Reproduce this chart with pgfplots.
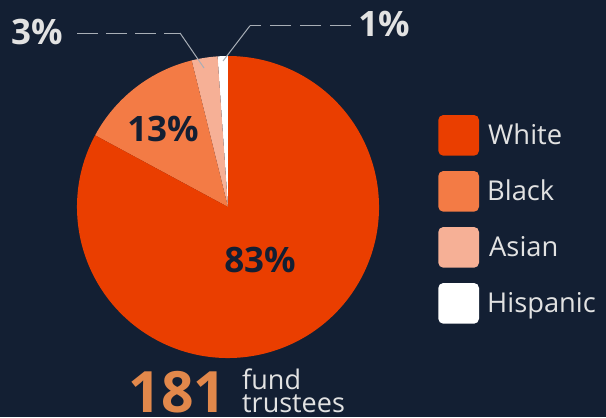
\documentclass[border=0pt]{standalone}
\usepackage{pgfplots}
\pgfplotsset{compat=1.18}
\usepackage{pgfplotstable}
\usepackage{fontspec}
\setmainfont{Open Sans}
\definecolor{bg}{HTML}{131F33}
\definecolor{cWhite}{HTML}{EA3E00}
\definecolor{cBlack}{HTML}{F37B45}
\definecolor{cAsian}{HTML}{F6B096}
\definecolor{cHisp}{HTML}{FFFFFF}
\definecolor{num}{HTML}{E2884B}
\definecolor{txt}{HTML}{E2E2E2}
\definecolor{lead}{HTML}{A8AEB6}
\pgfplotstableread{
group count
White 150
Black 24
Asian 5
Hispanic 2
}\datatable
\begin{document}%
\begin{tikzpicture}[x=1bp,y=1bp]
\pgfplotstablegetelem{0}{count}\of\datatable \let\nW\pgfplotsretval
\pgfplotstablegetelem{1}{count}\of\datatable \let\nB\pgfplotsretval
\pgfplotstablegetelem{2}{count}\of\datatable \let\nA\pgfplotsretval
\pgfplotstablegetelem{3}{count}\of\datatable \let\nH\pgfplotsretval
\pgfmathsetmacro{\tot}{\nW+\nB+\nA+\nH}
\pgfmathsetmacro{\aH}{90+360*\nH/\tot}
\pgfmathsetmacro{\aA}{\aH+360*\nA/\tot}
\pgfmathsetmacro{\aB}{\aA+360*\nB/\tot}
\fill[bg] (0,0) rectangle (606,417);
\begin{axis}[hide axis, scale only axis, width=302bp, height=302bp,
  xmin=-1, xmax=1, ymin=-1, ymax=1, at={(228bp,210bp)}, anchor=center, clip=false]
\fill[cHisp] (axis cs:0,0) -- ++(90:151bp) arc[start angle=90, end angle=\aH, radius=151bp] -- cycle;
\fill[cAsian] (axis cs:0,0) -- ++(\aH:151bp) arc[start angle=\aH, end angle=\aA, radius=151bp] -- cycle;
\fill[cBlack] (axis cs:0,0) -- ++(\aA:151bp) arc[start angle=\aA, end angle=\aB, radius=151bp] -- cycle;
\fill[cWhite] (axis cs:0,0) -- ++(\aB:151bp) arc[start angle=\aB, end angle=450, radius=151bp] -- cycle;
\end{axis}
% leader lines
\draw[lead, line width=1bp, dash pattern=on 21bp off 8bp] (77,384) -- (180,384);
\draw[lead, line width=1bp] (180,384) -- (204,349);
\draw[lead, line width=1bp, dash pattern=on 21bp off 9bp] (351,391.3) -- (250,391.3);
\draw[lead, line width=1bp] (250,391.3) -- (223,356);
% percentage labels
\node[anchor=base, inner sep=0, text=bg, font=\fontsize{35bp}{40bp}\selectfont\bfseries] at (260,145) {83\%};
\node[anchor=base, inner sep=0, text=bg, font=\fontsize{35bp}{40bp}\selectfont\bfseries] at (163,276) {13\%};
\node[anchor=base, inner sep=0, text=txt, font=\fontsize{35bp}{40bp}\selectfont\bfseries] at (37,373) {3\%};
\node[anchor=base, inner sep=0, text=txt, font=\fontsize{35bp}{40bp}\selectfont\bfseries] at (384,381) {1\%};
% legend
\fill[cWhite, rounded corners=5bp] (438.3,261.3) rectangle (479,302);
\fill[cBlack, rounded corners=5bp] (438.3,205.3) rectangle (479,246);
\fill[cAsian, rounded corners=5bp] (438.3,149.3) rectangle (479,190);
\fill[cHisp, rounded corners=5bp] (438.3,93.3) rectangle (479,134);
\node[anchor=base west, inner sep=0, text=txt, font=\fontsize{27.3bp}{30bp}\selectfont] at (488,272.7) {White};
\node[anchor=base west, inner sep=0, text=txt, font=\fontsize{27.3bp}{30bp}\selectfont] at (487,216.7) {Black};
\node[anchor=base west, inner sep=0, text=txt, font=\fontsize{27.3bp}{30bp}\selectfont] at (489,160.7) {Asian};
\node[anchor=base west, inner sep=0, text=txt, font=\fontsize{27.3bp}{30bp}\selectfont] at (487,104.7) {Hispanic};
% total
\node[anchor=base, inner sep=0, text=num, font=\fontsize{57bp}{60bp}\selectfont\bfseries] at (177.5,4.3) {181};
\node[anchor=base west, inner sep=0, text=txt, font=\fontsize{27bp}{28bp}\selectfont] at (242,27.7) {fund};
\node[anchor=base west, inner sep=0, text=txt, font=\fontsize{27bp}{28bp}\selectfont] at (242,4.3) {trustees};
\pgfresetboundingbox
\path[use as bounding box] (0,0) rectangle (606,417);
\end{tikzpicture}%
\end{document}
